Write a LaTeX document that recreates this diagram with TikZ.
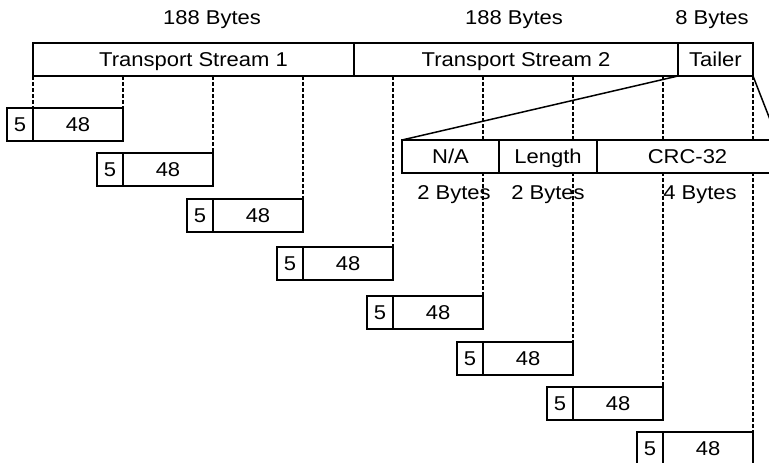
\documentclass[tikz,border=0pt]{standalone}
\usepackage{fontspec}
\setmainfont{Liberation Sans}[FakeStretch=1.1]
\begin{document}
\begin{tikzpicture}[x=1pt,y=-1pt,
    fld/.style={draw,line width=1.5pt,fill=white,minimum height=33pt,inner sep=0pt,outer sep=0pt,anchor=north west,text height=14.3pt,text depth=0pt,font=\fontsize{20}{20}\selectfont},
    dashln/.style={line width=1.2pt,dash pattern=on 4pt off 2pt},
    lbl/.style={font=\fontsize{20}{20}\selectfont}]
\useasboundingbox (0,0) rectangle (769,463);
\clip (0,0) rectangle (769,463);
\node[fld,minimum width=321pt] (ts1) at (33,43) {Transport Stream 1};
\node[fld,minimum width=324pt] (ts2) at (354,43) {Transport Stream 2};
\node[fld,minimum width=75pt] (tailer) at (678,43) {Tailer};
\node[lbl] (sz1) at (212,20) {188 Bytes};
\node[lbl] (sz2) at (514,20) {188 Bytes};
\node[lbl] (sz3) at (712,20) {8 Bytes};
% cells
\draw[dashln] (ts1.south west) -- (33,108);
\foreach \k/\yy in {1/108,2/153,3/199,4/247,5/296,6/342,7/387,8/432} {
  \node[fld,minimum width=90pt] (d\k) at ({33+90*(\k-1)},\yy) {48};
  \node[fld,minimum width=26pt,anchor=north east] (h\k) at (d\k.north west) {5};
  \draw[dashln] (d\k.north east |- ts1.south) -- (d\k.north east);
}
% tailer
\node[fld,minimum width=97pt] (na) at (402,140) {N/A};
\node[fld,minimum width=98pt] (len) at (na.north east) {Length};
\node[fld,minimum width=181pt] (crc) at (len.north east) {CRC-32};
\draw[line width=1.5pt] (tailer.south west) -- (na.north west);
\draw[line width=1.5pt] (tailer.south east) -- (crc.north east);
\node[lbl] (nb) at (454,195) {2 Bytes};
\node[lbl] (lb) at (548,195) {2 Bytes};
\node[lbl] (cb) at (700,195) {4 Bytes};
\end{tikzpicture}
\end{document}
